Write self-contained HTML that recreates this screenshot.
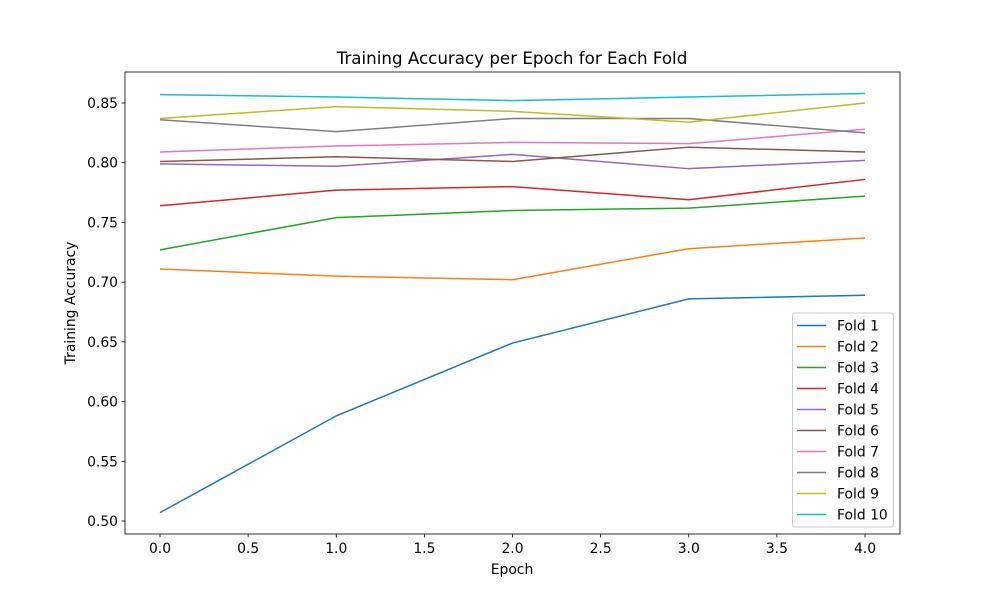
<!DOCTYPE html>
<html><head><meta charset="utf-8"><style>
body{margin:0;background:#fff;}
svg text{font-family:"DejaVu Sans","Liberation Sans",sans-serif;fill:#000;}
</style></head><body>
<svg id="chart" width="1000" height="600" xmlns="http://www.w3.org/2000/svg">
<rect width="1000" height="600" fill="#fff"/>
<g id="plot"></g>
</svg>
<script>
const epochs = [0,1,2,3,4];
const fold1 = [0.507,0.588,0.649,0.686,0.689];
const fold2 = [0.711,0.705,0.702,0.728,0.737];
const fold3 = [0.727,0.754,0.760,0.762,0.772];
const fold4 = [0.764,0.777,0.780,0.769,0.786];
const fold5 = [0.799,0.797,0.807,0.795,0.802];
const fold6 = [0.801,0.805,0.801,0.813,0.809];
const fold7 = [0.809,0.814,0.817,0.816,0.828];
const fold8 = [0.836,0.826,0.837,0.837,0.825];
const fold9 = [0.837,0.847,0.843,0.834,0.850];
const fold10 = [0.857,0.855,0.852,0.855,0.858];
const seriesNames = ["Fold 1","Fold 2","Fold 3","Fold 4","Fold 5","Fold 6","Fold 7","Fold 8","Fold 9","Fold 10"];
const xTicks = [0,0.5,1,1.5,2,2.5,3,3.5,4];
const xTickLabels = ["0.0","0.5","1.0","1.5","2.0","2.5","3.0","3.5","4.0"];
const yTicks = [0.5,0.55,0.6,0.65,0.7,0.75,0.8,0.85];
const yTickLabels = ["0.50","0.55","0.60","0.65","0.70","0.75","0.80","0.85"];

const colors = ["#1f77b4","#ff7f0e","#2ca02c","#d62728","#9467bd","#8c564b","#e377c2","#7f7f7f","#bcbd22","#17becf"];
const allSeries = [fold1,fold2,fold3,fold4,fold5,fold6,fold7,fold8,fold9,fold10];
const L=125,R=900,T=72,B=534;
function xs(v){return 160+(v-0)*(865-160)/4;}
function ys(v){return 521-(v-0.5)*(521-103)/0.35;}
const NS="http://www.w3.org/2000/svg";
const g=document.getElementById('plot');
function mk(tag,attrs,parent){const e=document.createElementNS(NS,tag);for(const k in attrs)e.setAttribute(k,attrs[k]);(parent||g).appendChild(e);return e;}

allSeries.forEach((s,i)=>{
  const p=mk('polyline',{points:s.map((v,j)=>xs(epochs[j])+','+ys(v)).join(' '),fill:'none',stroke:colors[i],'stroke-width':1.5});
  
  
});
const frame=mk('rect',{x:L,y:T,width:R-L,height:B-T,fill:'none',stroke:'#000','stroke-width':0.8});



xTicks.forEach((t,i)=>{
  const x=xs(t);
  mk('line',{x1:x,x2:x,y1:B,y2:B+3.5,stroke:'#000','stroke-width':0.8});
  const tx=mk('text',{x:x,y:B+19,'text-anchor':'middle','font-size':13.9});
  tx.textContent=xTickLabels[i];
  
  
});
yTicks.forEach((t,i)=>{
  const y=ys(t);
  mk('line',{x1:L-3.5,x2:L,y1:y,y2:y,stroke:'#000','stroke-width':0.8});
  const tx=mk('text',{x:L-7,y:y+5,'text-anchor':'end','font-size':13.9});
  tx.textContent=yTickLabels[i];
  
  
});
const title=mk('text',{x:512,y:64,'text-anchor':'middle','font-size':16.7});
title.textContent='Training Accuracy per Epoch for Each Fold';


const xl=mk('text',{x:512,y:574,'text-anchor':'middle','font-size':13.9});
xl.textContent='Epoch';


const yl=mk('text',{x:0,y:0,'text-anchor':'middle','font-size':13.9,transform:'translate(75,303) rotate(-90)'});
yl.textContent='Training Accuracy';



const lg=mk('g',{});


mk('rect',{x:792.5,y:313,width:101,height:214,rx:3,fill:'#fff','fill-opacity':0.8,stroke:'#ccc','stroke-width':1},lg);
seriesNames.forEach((n,i)=>{
  const y=325.5+i*21;
  const ln=mk('line',{x1:797,x2:826,y1:y,y2:y,stroke:colors[i],'stroke-width':1.5},lg);
  
  
  const t=mk('text',{x:837,y:y+5,'font-size':13.9},lg);
  t.textContent=n;
  
  
});
</script>
</body></html>
